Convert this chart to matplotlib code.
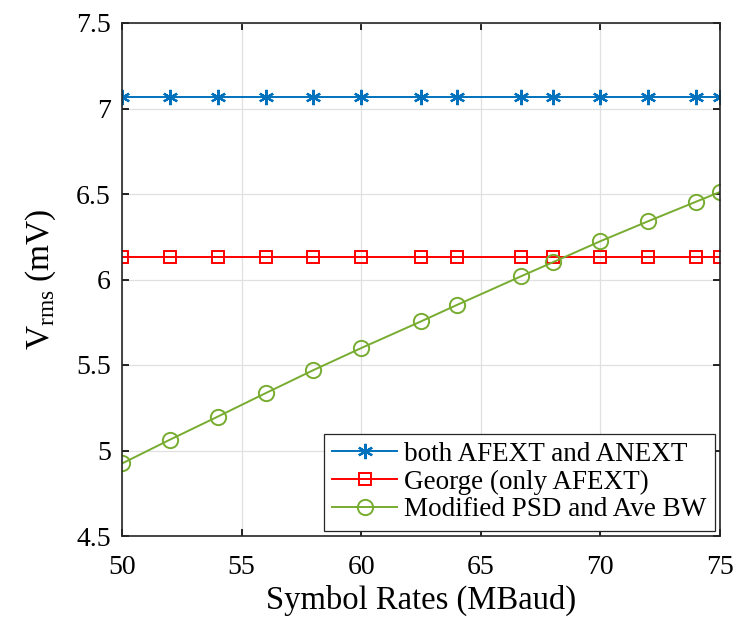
import numpy as np
import matplotlib.pyplot as plt

plt.rcParams['font.family'] = ['Liberation Serif', 'DejaVu Serif']
plt.rcParams['mathtext.fontset'] = 'custom'
plt.rcParams['mathtext.rm'] = 'Liberation Serif'

# symbol rates (MBaud)
rates = [50, 52, 54, 56, 58, 60, 62.5, 64, 66.67, 68, 70, 72, 74, 75]
# Vrms (mV)
both = [7.07] * len(rates)
george = [6.13] * len(rates)
modified = [4.924, 5.063, 5.198, 5.335, 5.470, 5.599, 5.755, 5.851,
            6.018, 6.10, 6.224, 6.341, 6.455, 6.512]

fig = plt.figure(figsize=(7.36, 6.18), dpi=100)
# axes box: x 122..720 px, y 23..536 px
ax = fig.add_axes([122 / 736, 1 - 536 / 618, 598 / 736, 513 / 618])

ax.plot(rates, both, color='#0072BD', marker=(6, 2, 0), markersize=11,
        markeredgewidth=1.6, lw=1.4, label='both AFEXT and ANEXT')
ax.plot(rates, george, color='#FF0000', marker='s', markersize=8.5, lw=1.4,
        markeredgewidth=1.4, markerfacecolor='none', label='George (only AFEXT)')
ax.plot(rates, modified, color='#77AC30', marker='o', markersize=11, lw=1.4,
        markeredgewidth=1.4, markerfacecolor='none', label='Modified PSD and Ave BW')

ax.set_xlim(50, 75)
ax.set_ylim(4.5, 7.5)
ax.set_xticks([50, 55, 60, 65, 70, 75])
ax.set_yticks([4.5, 5, 5.5, 6, 6.5, 7, 7.5])
ax.set_yticklabels(['4.5', '5', '5.5', '6', '6.5', '7', '7.5'])
ax.grid(True, color='#e0e0e0', lw=0.9)
ax.set_axisbelow(True)
ax.tick_params(direction='in', top=True, right=True, labelsize=20,
               length=5, width=1.2)
ax.tick_params(axis='x', pad=14)
ax.tick_params(axis='y', pad=8)
for s in ax.spines.values():
    s.set_linewidth(1.2)
    s.set_color('#262626')

ax.set_xlabel('Symbol Rates (MBaud)', fontsize=23.5, labelpad=3)
ax.set_ylabel(r'V$_{\mathrm{rms}}$ (mV)', fontsize=24, labelpad=13)

leg = ax.legend(loc='lower right', fontsize=19.5, fancybox=False,
                framealpha=1, edgecolor='#262626', borderpad=0.3,
                labelspacing=0.1, handlelength=2.4, handletextpad=0.25,
                borderaxespad=0.2)
leg.get_frame().set_linewidth(0.9)

fig.savefig('out.png', dpi=100)
